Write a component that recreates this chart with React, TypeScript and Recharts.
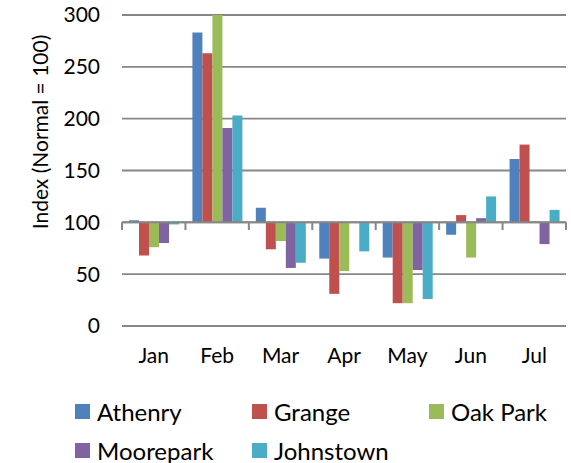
import { BarChart, Bar, XAxis, YAxis, CartesianGrid, ReferenceLine } from 'recharts';

const months = ['Jan', 'Feb', 'Mar', 'Apr', 'May', 'Jun', 'Jul'];
const athenry = [102, 283, 114, 65, 66, 88, 161];
const grange = [68, 263, 74, 31, 22, 107, 175];
const oakPark = [76, 300, 82, 53, 22, 66, 101];
const moorepark = [80, 191, 56, 100, 54, 104, 79];
const johnstown = [98, 203, 61, 72, 26, 125, 112];
const yTicks = [0, 50, 100, 150, 200, 250, 300];

const NORMAL = 100;

const series = [
    { name: 'Athenry', values: athenry, color: '#4F81BD' },
    { name: 'Grange', values: grange, color: '#C0504D' },
    { name: 'Oak Park', values: oakPark, color: '#9BBB59' },
    { name: 'Moorepark', values: moorepark, color: '#8064A2' },
    { name: 'Johnstown', values: johnstown, color: '#4BACC6' },
];

// each bar runs from the normal line (100) to its value
const data = months.map((m, i) => {
    const row: Record<string, unknown> = { month: m };
    series.forEach((s) => {
        row[s.name] = [NORMAL, s.values[i]];
    });
    return row;
});

const font = 'Lato, "Open Sans", sans-serif';
const gridColor = '#878787';

const LegendBox = () => (
    <div style={{ position: 'absolute', left: 0, top: 396, width: 571, height: 70, fontFamily: font, fontSize: 24, color: '#000' }}>
        {series.map((s, i) => {
            const col = i % 3;
            const row = Math.floor(i / 3);
            return (
                <div
                    key={s.name}
                    style={{
                        position: 'absolute',
                        left: 75 + col * 177,
                        top: row * 39,
                        display: 'flex',
                        alignItems: 'center',
                        height: 30,
                        whiteSpace: 'nowrap',
                    }}
                >
                    <span style={{ display: 'inline-block', width: 15, height: 15, background: s.color, marginRight: 7 }} />
                    {s.name}
                </div>
            );
        })}
    </div>
);

export default function App() {
    return (
        <div style={{ position: 'absolute', left: 0, top: 0, width: 571, height: 463, background: '#fff' }}>
            <BarChart
                width={571}
                height={463}
                data={data}
                margin={{ top: 15, right: 5, left: 0, bottom: 97 }}
                barCategoryGap="11%"
                barGap={0}
            >
                <CartesianGrid vertical={false} stroke={gridColor} strokeWidth={1.8} />
                <XAxis
                    dataKey="month"
                    height={40}
                    axisLine={false}
                    tickLine={false}
                    tickSize={0}
                    tickMargin={22}
                    interval={0}
                    tick={{ fill: '#000', fontSize: 21, fontFamily: font }}
                />
                <YAxis
                    width={122}
                    domain={[0, 300]}
                    ticks={yTicks}
                    axisLine={false}
                    tickLine={false}
                    tickSize={0}
                    tickMargin={22}
                    tick={{ fill: '#000', fontSize: 21, fontFamily: font }}
                    label={{
                        content: () => (
                            <text
                                x={39}
                                y={132}
                                transform="rotate(-90 39 132)"
                                textAnchor="middle"
                                dominantBaseline="central"
                                fill="#000"
                                fontSize={21}
                                fontFamily={font}
                            >
                                Index (Normal = 100)
                            </text>
                        ),
                    }}
                />
                {series.map((s) => (
                    <Bar key={s.name} dataKey={s.name} name={s.name} fill={s.color} isAnimationActive={false} />
                ))}
                <ReferenceLine y={NORMAL} stroke={gridColor} strokeWidth={2} />
                {/* small category ticks hanging below the 100 line */}
                {months.map((m) => (
                    <ReferenceLine
                        key={'tick' + m}
                        position="start"
                        segment={[{ x: m, y: NORMAL }, { x: m, y: NORMAL - 7.5 }]}
                        stroke={gridColor}
                        strokeWidth={2}
                        ifOverflow="visible"
                    />
                ))}
                <ReferenceLine
                    position="end"
                    segment={[{ x: months[months.length - 1], y: NORMAL }, { x: months[months.length - 1], y: NORMAL - 7.5 }]}
                    stroke={gridColor}
                    strokeWidth={2}
                    ifOverflow="visible"
                />
            </BarChart>
            <LegendBox />
        </div>
    );
}
